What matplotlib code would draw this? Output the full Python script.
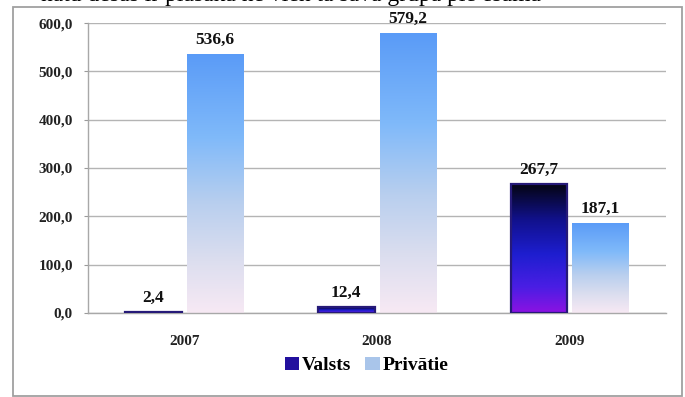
import numpy as np
import matplotlib
matplotlib.use("Agg")
import matplotlib.pyplot as plt
from matplotlib.colors import LinearSegmentedColormap
from matplotlib.patches import Rectangle, Patch

# ── Data ──────────────────────────────────────────────────────────────────────
years    = ["2007", "2008", "2009"]
valsts   = [2.4, 12.4, 267.7]
privatie = [536.6, 579.2, 187.1]
v_labels = ["2,4", "12,4", "267,7"]
p_labels = ["536,6", "579,2", "187,1"]
y_ticks  = [0, 100, 200, 300, 400, 500, 600]

SERIF = ["Liberation Serif", "DejaVu Serif"]

# gradients, bottom -> top
cm_valsts = LinearSegmentedColormap.from_list("valsts", [
    (0.00, "#8c12e2"), (0.20, "#4a1ee4"), (0.45, "#1e1ed0"),
    (0.72, "#11118c"), (1.00, "#04040f")])
cm_priv = LinearSegmentedColormap.from_list("priv", [
    (0.00, "#f7e9f4"), (0.20, "#dcdeef"), (0.42, "#b9cfee"),
    (0.68, "#7fb9fa"), (1.00, "#5a9bf7")])

fig = plt.figure(figsize=(6.85, 3.97), dpi=100)
ax = fig.add_axes([0.1285, 0.2116, 0.844, 0.7304])

x = np.arange(len(years))
W, OFF = 0.295, 0.16


def gradient_bars(xs, vals, cmap, edge, lw):
    bars = ax.bar(xs, vals, W, facecolor="none", edgecolor=edge,
                  linewidth=lw, zorder=3)
    grad = np.linspace(0, 1, 256).reshape(-1, 1)
    for b in bars:
        x0, y0 = b.get_x(), b.get_y()
        im = ax.imshow(grad, cmap=cmap, origin="lower", aspect="auto",
                       extent=[x0, x0 + b.get_width(), y0, y0 + b.get_height()],
                       zorder=2, interpolation="bilinear")
        im.set_clip_path(b)
    return bars


gradient_bars(x - OFF, valsts, cm_valsts, "#261a78", 1.6)
gradient_bars(x + OFF, privatie, cm_priv, "none", 0)

for xi, v, t in zip(x - OFF, valsts, v_labels):
    ax.text(xi, v + 12, t, ha="center", va="bottom", fontsize=12.5,
            fontweight="bold", family=SERIF, color="#111111")
for xi, v, t in zip(x + OFF, privatie, p_labels):
    ax.text(xi, v + 12, t, ha="center", va="bottom", fontsize=12.5,
            fontweight="bold", family=SERIF, color="#111111")

ax.set_xlim(-0.5, 2.5)
ax.set_ylim(0, 600)
ax.set_yticks(y_ticks)
ax.set_yticklabels([f"{v:.1f}".replace(".", ",") for v in y_ticks],
                   fontsize=11, fontweight="bold", family=SERIF, color="#222222")
ax.set_xticks(x)
ax.set_xticklabels(years, fontsize=11, fontweight="bold", family=SERIF,
                   color="#222222")
ax.tick_params(axis="y", length=3, width=0.8, color="#9a9a9a", pad=8)
ax.tick_params(axis="x", length=0, pad=16)

ax.grid(axis="y", color="#b4b4b4", linewidth=1.0, zorder=0)
ax.set_axisbelow(True)
for side in ["top", "right"]:
    ax.spines[side].set_visible(False)
for side in ["left", "bottom"]:
    ax.spines[side].set_color("#a8a8a8")
    ax.spines[side].set_linewidth(1.0)

handles = [Patch(facecolor="#22109e", edgecolor="none", label="Valsts"),
           Patch(facecolor="#a9c5ea", edgecolor="none", label="Privātie")]
fig.legend(handles=handles, loc="center", bbox_to_anchor=(0.535, 0.079),
           ncol=2, frameon=False, handlelength=0.75, handleheight=0.7,
           handletextpad=0.15, columnspacing=0.7,
           prop={"family": SERIF, "weight": "bold", "size": 14})

# outer frame of the embedded chart
fig.patches.append(Rectangle((0.019, 0.003), 0.9766, 0.979,
                             transform=fig.transFigure, fill=False,
                             edgecolor="#a0a0a0", linewidth=1.3))

# line of document text cut off above the chart
fig.text(0.06, 0.9975, "nātu desas ir plašāka ne vien tā savā grupā pie esamā",
         ha="left", va="baseline", fontsize=17, family=SERIF, color="black")

fig.savefig("out.png", dpi=100)
